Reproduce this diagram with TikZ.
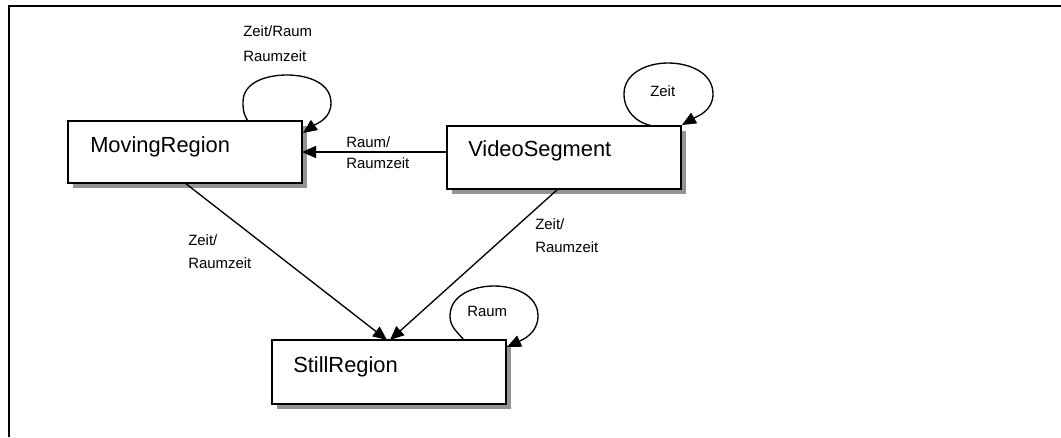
\documentclass[tikz,border=0pt]{standalone}
\usepackage{fontspec}
\setmainfont{Liberation Sans}
\usetikzlibrary{arrows.meta,shadows,calc}
\begin{document}
\begin{tikzpicture}[x=0.75pt,y=-0.75pt,
 box/.style={draw,line width=1.3pt,fill=white,anchor=north west,inner sep=0pt,outer sep=0pt,
   drop shadow={shadow xshift=3.75pt,shadow yshift=-3.75pt,fill=black!42,opacity=1}},
 title/.style={anchor=base west,inner sep=0pt,font=\fontsize{16.4}{19}\selectfont},
 lbl/.style={anchor=base west,inner sep=0pt,font=\fontsize{11.2}{13}\selectfont},
 conn/.style={line width=1pt,-{Triangle[length=10.5pt,width=9pt]}}]
\useasboundingbox (0,0) rectangle (1061,437);
% frame
\draw[line width=1.5pt] (9,437) -- (9,6) -- (1061,6);
% boxes
\node[box,minimum width=175.5pt,minimum height=46.5pt] (mr) at (68,121) {};
\node[box,minimum width=175.5pt,minimum height=47.25pt] (vs) at (447,126) {};
\node[box,minimum width=175.5pt,minimum height=48pt] (sr) at (272,340) {};
\node[title] (mrt) at (90,152) {MovingRegion};
\node[title] (vst) at (468,156) {VideoSegment};
\node[title] (srt) at (293,372) {StillRegion};
% coordinates on the boxes
\coordinate (mrloopa) at ($(mr.north west)+(180,0)$);
\coordinate (mrloopb) at ($(mr.north east)+(1,12)$);
\coordinate (vsloopa) at ($(vs.north west)+(206,0)$);
\coordinate (vsloopb) at ($(vs.north east)+(1,-1)$);
\coordinate (srloopa) at ($(sr.north west)+(192,0)$);
\coordinate (srloopb) at ($(sr.north east)+(1,7)$);
\coordinate (vsw) at ($(vs.north west)+(0,26)$);
\coordinate (mre) at ($(mr.north east)+(0,31)$);
\coordinate (mrs) at ($(mr.south west)+(117,0)$);
\coordinate (vss) at ($(vs.south west)+(111,0)$);
\coordinate (srn1) at ($(sr.north west)+(115,0)$);
\coordinate (srn2) at ($(sr.north west)+(118,0)$);
% self loops
\draw[conn] (mrloopa) to[out=125,in=-90] (243,102) to[out=90,in=180] (287,75)
  to[out=0,in=90] (331,103) to[out=-90,in=35] (mrloopb);
\draw[conn] (vsloopa) to[out=170,in=-90] (624,94) to[out=90,in=180] (668,63)
  to[out=0,in=90] (713,94) to[out=-90,in=30] (vsloopb);
\draw[conn] (srloopa) to[out=130,in=-90] (450,316) to[out=90,in=180] (494,286)
  to[out=0,in=90] (538,316) to[out=-90,in=25] (srloopb);
% edges
\draw[conn] (vsw) -- (mre);
\draw[conn] (mrs) -- (srn1);
\draw[conn] (vss) -- (srn2);
% labels
\node[lbl] (l1a) at (243,36) {Zeit/Raum};
\node[lbl] (l1b) at (243,61) {Raumzeit};
\node[lbl] (l2a) at (346,147) {Raum/};
\node[lbl] (l2b) at (346,168) {Raumzeit};
\node[lbl] (l3) at (650,96) {Zeit};
\node[lbl] (l4a) at (188,245) {Zeit/};
\node[lbl] (l4b) at (188,268) {Raumzeit};
\node[lbl] (l5a) at (535,229) {Zeit/};
\node[lbl] (l5b) at (535,252) {Raumzeit};
\node[lbl] (l6) at (467,316) {Raum};
\end{tikzpicture}
\end{document}
